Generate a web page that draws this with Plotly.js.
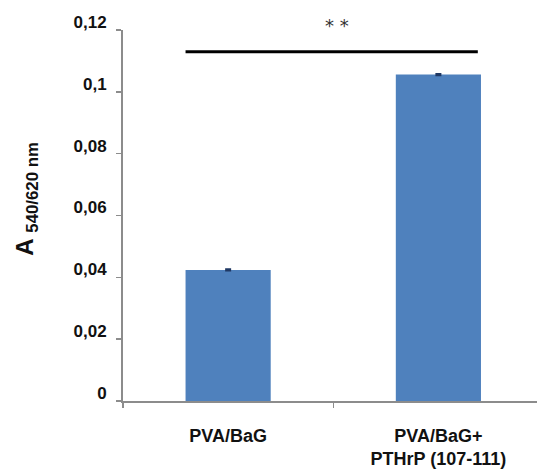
<!DOCTYPE html>
<html>
<head>
<meta charset="utf-8">
<script src="https://cdn.plot.ly/plotly-3.0.1.min.js"></script>
<style>html,body{margin:0;padding:0;background:#fff;}#chart{width:537px;height:472px;}</style>
</head>
<body>
<div id="chart"></div>
<script>
// Data
var categories = ['PVA/BaG', 'PVA/BaG+<br>PTHrP (107-111)'];
var values = [0.0424, 0.1056];
var errors = [0.0002, 0.0002];
var yTickVals = [0, 0.02, 0.04, 0.06, 0.08, 0.1, 0.12];
var yTickText = ['0', '0,02', '0,04', '0,06', '0,08', '0,1', '0,12'];
var sigPair = [0, 1];
var sigLevel = [0.113];
var sigLabel = ['* *'];

var barWidth = 0.405;
var fontFam = 'Liberation Sans, Arial, sans-serif';

var trace = {
  type: 'bar',
  x: categories,
  y: values,
  width: barWidth,
  marker: {color: '#4F81BD'},
  error_y: {type: 'data', array: errors, visible: true, color: '#1F3864', thickness: 2, width: 3},
  hoverinfo: 'none'
};

var layout = {
  width: 537, height: 472,
  margin: {l: 123, r: 0, t: 30, b: 71, pad: 0},
  paper_bgcolor: '#ffffff', plot_bgcolor: '#ffffff',
  showlegend: false,
  separators: ', ',
  font: {family: fontFam, color: '#000'},
  xaxis: {
    type: 'category',
    range: [-0.5, 1.469],
    showline: true, linecolor: '#8c8c8c', linewidth: 2,
    ticks: 'outside', tickson: 'boundaries', ticklen: 5, tickcolor: '#8c8c8c', tickwidth: 1.5,
    ticklabelstandoff: 17,
    tickfont: {size: 18, family: fontFam, color: '#111', weight: 'bold'},
    showgrid: false, zeroline: false,
    fixedrange: true
  },
  yaxis: {
    range: [0, 0.12],
    tickvals: yTickVals, ticktext: yTickText,
    showline: true, linecolor: '#8c8c8c', linewidth: 2,
    ticks: 'outside', ticklen: 5, tickcolor: '#8c8c8c', tickwidth: 1.5,
    ticklabelstandoff: 6,
    ticklabelshift: -8,
    tickfont: {size: 17, family: fontFam, color: '#111', weight: 'bold'},
    showgrid: false, zeroline: false,
    fixedrange: true
  },
  shapes: [{
    type: 'line', xref: 'x', yref: 'y',
    x0: sigPair[0] - barWidth / 2, x1: sigPair[1] + barWidth / 2 - 0.015,
    y0: sigLevel[0], y1: sigLevel[0],
    line: {color: '#000', width: 3}
  }],
  annotations: [{
    xref: 'x', yref: 'paper',
    x: (sigPair[0] + sigPair[1]) / 2 + 0.02, y: 1.013,
    yanchor: 'middle', xanchor: 'center',
    text: sigLabel[0], showarrow: false,
    font: {size: 18, color: '#333', family: 'DejaVu Sans, sans-serif'}
  }, {
    xref: 'paper', yref: 'paper',
    x: -0.232, y: 0.545,
    xanchor: 'center', yanchor: 'middle',
    textangle: -90,
    text: '<b>A </b><sub><b>540/620 nm</b></sub>', showarrow: false,
    font: {size: 24, color: '#111', family: fontFam}
  }]
};

Plotly.newPlot('chart', [trace], layout, {staticPlot: true, displayModeBar: false});
</script>
</body>
</html>
